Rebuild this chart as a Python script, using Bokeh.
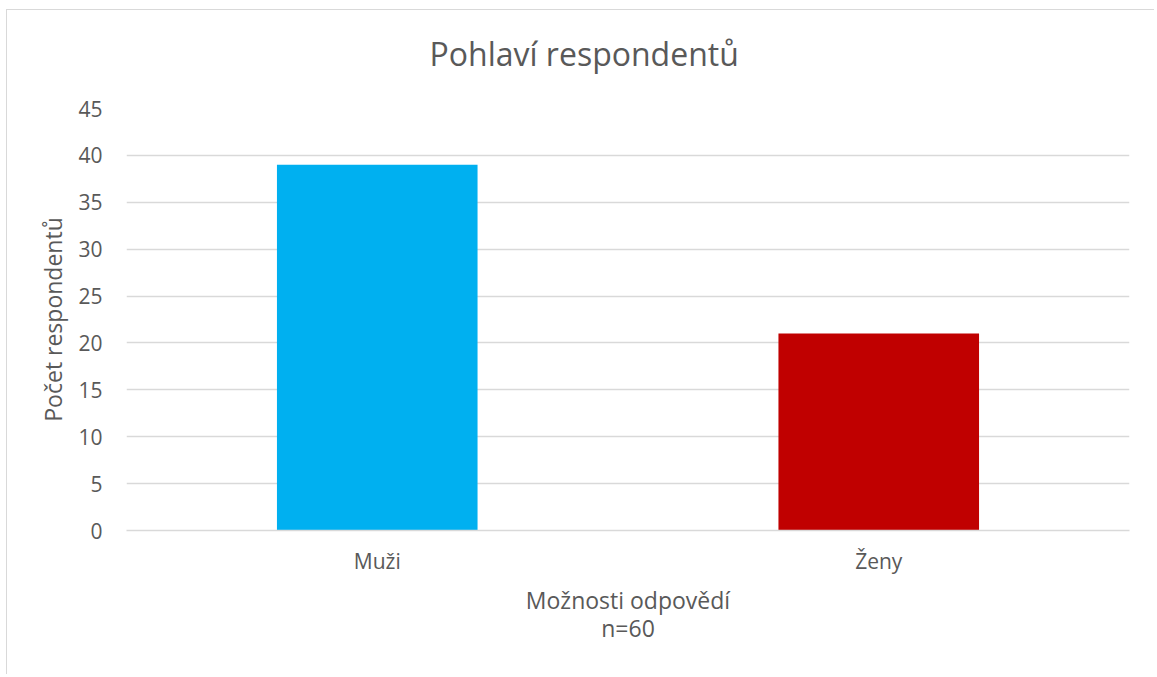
from bokeh.plotting import figure
from bokeh.models import FactorRange, Range1d, SingleIntervalTicker, Title
from bokeh.embed import file_html
from bokeh.resources import INLINE

categories = ["Muži", "Ženy"]
values = [39, 21]
colors = ["#00B0F0", "#C00000"]
title_text = "Pohlaví respondentů"
x_label = "Možnosti odpovědí\nn=60"
y_label = "Počet respondentů"

FONT = "Open Sans"
TXT = "#595959"
GRID = "#D9D9D9"

p = figure(
    x_range=FactorRange(*categories),
    y_range=Range1d(0, 45),
    width=1148, height=665,
    output_backend="svg", toolbar_location=None,
    min_border_left=119, min_border_right=26,
    min_border_top=98, min_border_bottom=145,
)
p.title = None
p.styles = {
    "border-left": "1px solid #D9D9D9",
    "border-top": "1px solid #D9D9D9",
    "margin-left": "6px",
    "margin-top": "9px",
}

p.vbar(x=categories, top=values, width=0.4, fill_color=colors, line_color=None)

# spacer between the plot frame and the chart title
spacer = Title(text=" ", text_font=FONT, text_font_size="10px", standoff=18)
p.add_layout(spacer, "above")
main_title = Title(
    text=title_text, align="left", offset=303, standoff=0,
    text_font=FONT, text_font_size="32px", text_font_style="normal", text_color=TXT,
)
p.add_layout(main_title, "above")

p.outline_line_color = None
p.xgrid.grid_line_color = None
p.ygrid.grid_line_color = GRID
p.ygrid.grid_line_width = 1.3

p.yaxis.ticker = SingleIntervalTicker(interval=5)
p.yaxis.axis_line_color = None
p.yaxis.major_tick_line_color = None
p.yaxis.minor_tick_line_color = None
p.yaxis.major_label_standoff = 18
p.yaxis.axis_label = y_label
p.yaxis.axis_label_standoff = 6

p.xaxis.axis_line_color = GRID
p.xaxis.axis_line_width = 1.3
p.xaxis.major_tick_line_color = None
p.xaxis.major_label_standoff = 10
p.xaxis.axis_label = x_label
p.xaxis.axis_label_standoff = 6
p.xaxis.axis_label_text_line_height = 0.9

for ax in (p.xaxis[0], p.yaxis[0]):
    ax.major_label_text_font = FONT
    ax.major_label_text_font_size = "21px"
    ax.major_label_text_color = TXT
    ax.axis_label_text_font = FONT
    ax.axis_label_text_font_size = "23px"
    ax.axis_label_text_font_style = "normal"
    ax.axis_label_text_color = TXT

p.background_fill_color = "white"
p.border_fill_color = "white"

open("out.html", "w").write(file_html(p, INLINE))
